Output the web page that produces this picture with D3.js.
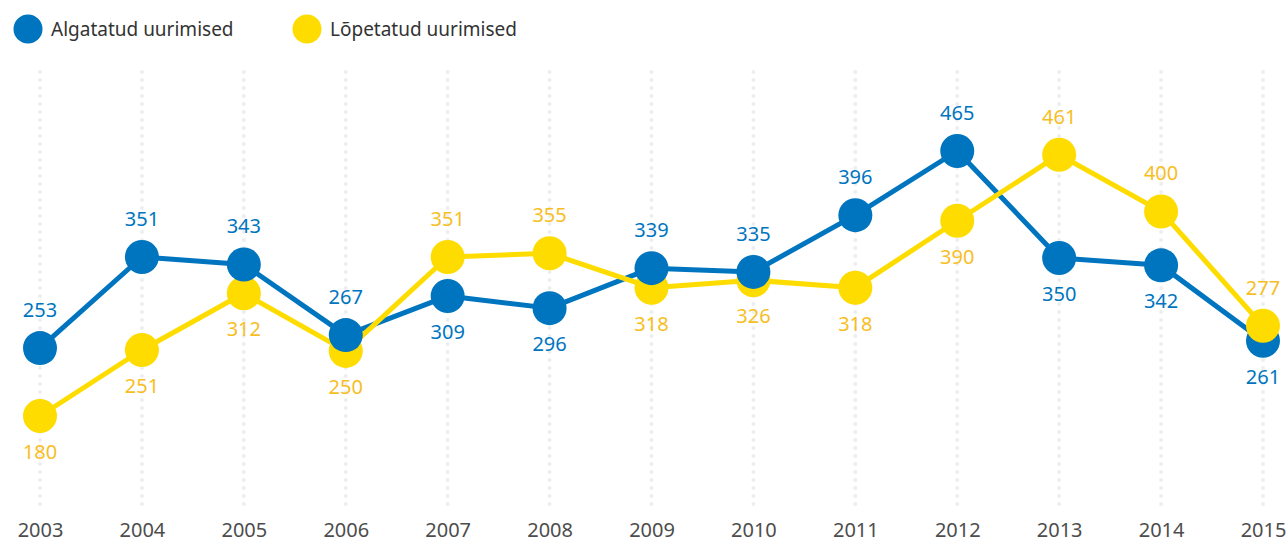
<!DOCTYPE html>
<html>
<head>
<meta charset="utf-8">
<script src="https://cdn.jsdelivr.net/npm/d3@7"></script>
<style>
  body { margin: 0; background: #fff; }
  text { font-family: "Noto Sans", "Open Sans", sans-serif; }
</style>
</head>
<body>
<script>
var width = 1288;
var height = 546;

// data
var years = [2003, 2004, 2005, 2006, 2007, 2008, 2009, 2010, 2011, 2012, 2013, 2014, 2015];
var algatatud = [253, 351, 343, 267, 309, 296, 339, 335, 396, 465, 350, 342, 261];
var lopetatud = [180, 251, 312, 250, 351, 355, 318, 326, 318, 390, 461, 400, 277];
var seriesNames = ["Algatatud uurimised", "Lõpetatud uurimised"];

var blue = "#0075bf";
var yellow = "#ffdc00";
var yellowText = "#f7be1f";

var svg = d3.select("body").append("svg")
  .attr("width", width)
  .attr("height", height);

var x = d3.scalePoint().domain(years).range([40, 1263]);
var y = d3.scaleLinear().domain([180, 465]).range([416, 151]);

// dotted grid lines
svg.append("g").selectAll("line")
  .data(years)
  .enter().append("line")
  .attr("x1", function(d) { return x(d); })
  .attr("x2", function(d) { return x(d); })
  .attr("y1", 72)
  .attr("y2", 505)
  .attr("stroke", "#eceef0")
  .attr("stroke-width", 4)
  .attr("stroke-linecap", "round")
  .attr("stroke-dasharray", "0,8");

// x axis labels
var xAxis = svg.append("g")
  .attr("transform", "translate(0," + 523 + ")")
  .call(d3.axisBottom(x).tickSize(0).tickPadding(0));
xAxis.select(".domain").remove();
xAxis.selectAll("text")
  .attr("dy", "0.72em")
  .style("font-family", "'Noto Sans', sans-serif")
  .style("font-size", "20px")
  .attr("fill", "#4d4d4d");

var series = [
  { name: seriesNames[0], values: algatatud, color: blue, text: blue },
  { name: seriesNames[1], values: lopetatud, color: yellow, text: yellowText }
];

var line = d3.line()
  .x(function(d, i) { return x(years[i]); })
  .y(function(d) { return y(d); });

// lines
svg.selectAll(".series-line")
  .data(series)
  .enter().append("path")
  .attr("class", "series-line")
  .attr("d", function(s) { return line(s.values); })
  .attr("fill", "none")
  .attr("stroke", function(s) { return s.color; })
  .attr("stroke-width", 5)
  .attr("stroke-linejoin", "round");

// points: per year, the higher value is drawn on top and labelled above
var points = [];
years.forEach(function(yr, i) {
  var a = { year: yr, value: algatatud[i], s: series[0] };
  var b = { year: yr, value: lopetatud[i], s: series[1] };
  var hi = a.value >= b.value ? a : b;
  var lo = hi === a ? b : a;
  lo.above = false;
  hi.above = true;
  points.push(lo, hi);
});

svg.append("g").selectAll("circle")
  .data(points)
  .enter().append("circle")
  .attr("cx", function(d) { return x(d.year); })
  .attr("cy", function(d) { return y(d.value); })
  .attr("r", 17)
  .attr("fill", function(d) { return d.s.color; });

svg.append("g").selectAll("text")
  .data(points)
  .enter().append("text")
  .attr("x", function(d) { return x(d.year); })
  .attr("y", function(d) { return y(d.value) + (d.above ? -31 : 43); })
  .attr("text-anchor", "middle")
  .style("font-size", "20px")
  .attr("fill", function(d) { return d.s.text; })
  .text(function(d) { return d.value; });

// legend
var legend = svg.append("g").selectAll("g")
  .data(series)
  .enter().append("g")
  .attr("transform", function(d, i) { return "translate(" + (28 + i * 279) + ",29)"; });

legend.append("circle")
  .attr("r", 14.5)
  .attr("fill", function(d) { return d.color; });

legend.append("text")
  .attr("x", 23)
  .attr("dy", "0.35em")
  .style("font-size", "19px")
  .attr("fill", "#333")
  .text(function(d) { return d.name; });
</script>
</body>
</html>
